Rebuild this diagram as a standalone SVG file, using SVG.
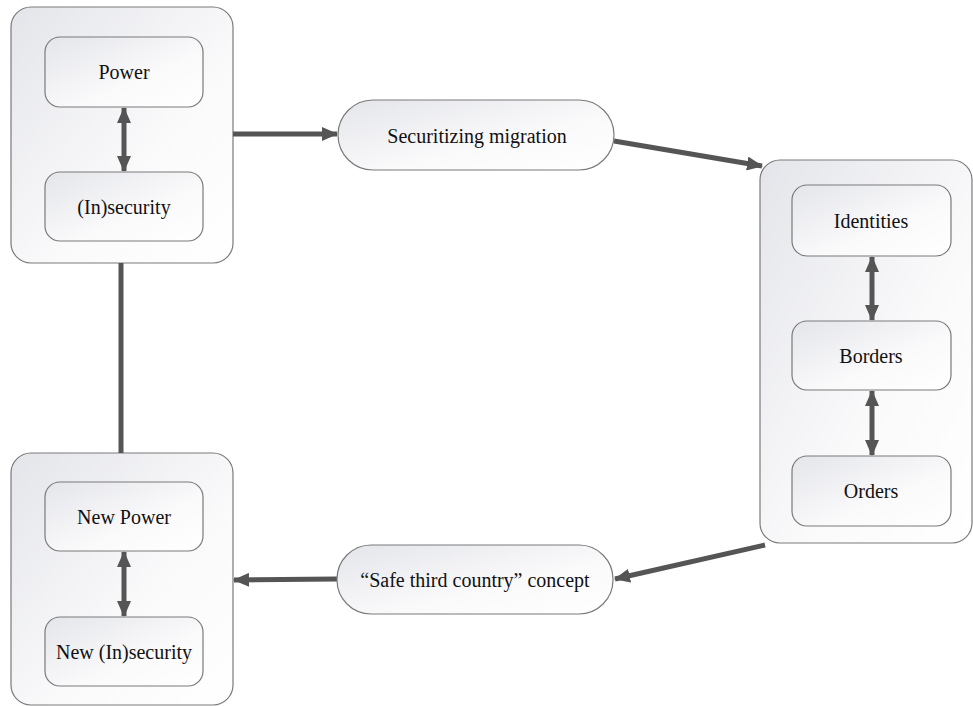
<svg xmlns="http://www.w3.org/2000/svg" width="973" height="706" viewBox="0 0 973 706">
<defs>
<linearGradient id="g" x1="0" y1="0" x2="1" y2="1">
<stop offset="0" stop-color="#e4e5ea"/>
<stop offset="0.6" stop-color="#fafafb"/>
<stop offset="1" stop-color="#ffffff"/>
</linearGradient>
<marker id="ah" viewBox="0 0 16 14" refX="15" refY="7" markerWidth="16" markerHeight="14" markerUnits="userSpaceOnUse" orient="auto-start-reverse">
<path d="M0,0 L16,7 L0,14 Z" fill="#555"/>
</marker>
</defs>
<style>
.box{fill:url(#g);stroke:#7a7a7a;stroke-width:1.2}
.t{font-family:"Liberation Serif","Times New Roman",serif;font-size:20px;fill:#111;text-anchor:middle;dominant-baseline:central}
.c{stroke:#555;stroke-width:5;fill:none}
</style>
<rect width="973" height="706" fill="#fff"/>
<g id="group-top">
<rect class="box" x="11" y="7" width="222" height="256" rx="20"/>
</g>
<g id="group-right">
<rect class="box" x="760" y="160" width="212" height="383" rx="20"/>
</g>
<g id="group-bottom">
<rect class="box" x="11" y="453" width="222" height="252" rx="20"/>
</g>
<g id="connectors">
<line class="c" x1="121" y1="263" x2="121" y2="453"/>
<line class="c" x1="233" y1="134" x2="337" y2="134" marker-end="url(#ah)"/>
<line class="c" x1="614" y1="141" x2="762" y2="166" marker-end="url(#ah)"/>
<line class="c" x1="765" y1="545" x2="615" y2="579" marker-end="url(#ah)"/>
<line class="c" x1="337" y1="579" x2="234" y2="580" marker-end="url(#ah)"/>
<line class="c" x1="124" y1="108" x2="124" y2="171" marker-start="url(#ah)" marker-end="url(#ah)"/>
<line class="c" x1="124" y1="552" x2="124" y2="616" marker-start="url(#ah)" marker-end="url(#ah)"/>
<line class="c" x1="872" y1="257" x2="872" y2="320" marker-start="url(#ah)" marker-end="url(#ah)"/>
<line class="c" x1="872" y1="391" x2="872" y2="455" marker-start="url(#ah)" marker-end="url(#ah)"/>
</g>
<g id="power">
<rect class="box" x="45" y="37" width="158" height="70" rx="15"/>
<text class="t" x="124" y="72">Power</text>
</g>
<g id="insecurity">
<rect class="box" x="45" y="172" width="158" height="69" rx="15"/>
<text class="t" x="124" y="207">(In)security</text>
</g>
<g id="securitizing">
<rect class="box" x="338" y="100" width="276" height="70" rx="35"/>
<text class="t" x="477" y="136">Securitizing migration</text>
</g>
<g id="identities">
<rect class="box" x="792" y="185" width="159" height="71" rx="15"/>
<text class="t" x="871" y="221">Identities</text>
</g>
<g id="borders">
<rect class="box" x="792" y="321" width="159" height="69" rx="15"/>
<text class="t" x="871" y="356">Borders</text>
</g>
<g id="orders">
<rect class="box" x="792" y="456" width="159" height="70" rx="15"/>
<text class="t" x="871" y="491">Orders</text>
</g>
<g id="safe-third">
<rect class="box" x="337" y="545" width="276" height="69" rx="34"/>
<text class="t" x="475" y="580">“Safe third country” concept</text>
</g>
<g id="new-power">
<rect class="box" x="45" y="482" width="158" height="69" rx="15"/>
<text class="t" x="124" y="517">New Power</text>
</g>
<g id="new-insecurity">
<rect class="box" x="45" y="617" width="158" height="69" rx="15"/>
<text class="t" x="124" y="652">New (In)security</text>
</g>
</svg>
